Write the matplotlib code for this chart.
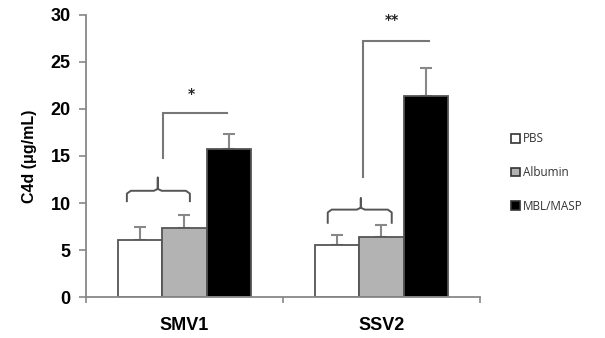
import numpy as np
import matplotlib
matplotlib.use('Agg')
import matplotlib.pyplot as plt
from matplotlib.patches import Patch

groups = ["SMV1", "SSV2"]
series = ["PBS", "Albumin", "MBL/MASP"]
means = {
    "PBS": [6.05, 5.55],
    "Albumin": [7.3, 6.4],
    "MBL/MASP": [15.7, 21.4],
}
errs = {
    "PBS": [1.4, 1.05],
    "Albumin": [1.4, 1.25],
    "MBL/MASP": [1.6, 3.0],
}
colors = {"PBS": "white", "Albumin": "#b3b3b3", "MBL/MASP": "black"}
stars = ["*", "**"]

edge = "#555555"
axcol = "#888888"

fig = plt.figure(figsize=(6.05, 3.38), dpi=100)
ax = fig.add_axes([0.142, 0.121, 0.651, 0.835])

x = np.arange(len(groups))
w = 0.226
for i, s in enumerate(series):
    ax.bar(x + (i - 1) * w, means[s], w, color=colors[s], edgecolor=edge,
           linewidth=1.3, zorder=2)
    ax.errorbar(x + (i - 1) * w, means[s],
                yerr=[np.zeros(len(groups)), errs[s]],
                fmt="none", ecolor=axcol, elinewidth=1.5, capsize=4,
                capthick=1.5, zorder=1)

# significance brackets (x offsets in category units, y in data units)
brk = [(-0.109, 0.216, 19.6, 14.8, 21.6), (-0.094, 0.241, 27.2, 12.8, 29.5)]
for gi, (xl, xr, ytop, ybot, ys) in enumerate(brk):
    ax.plot([gi + xl, gi + xl, gi + xr], [ybot, ytop, ytop], color="#777777",
            lw=1.5, solid_joinstyle="miter")
    ax.text(gi + (xl + xr) / 2 - 0.02, ys, stars[gi], ha="center", va="center",
            fontsize=10, fontweight="bold", color="#222222")

# curly braces over PBS + Albumin
braces = [(-0.292, 0.028, -0.135, 11.3, 12.7, 10.2),
          (-0.272, 0.053, -0.104, 9.3, 10.5, 7.9)]
for gi, (bl, br, bc, yb, ytip, yend) in enumerate(braces):
    r = 0.02
    xs = [gi + bl, gi + bl, gi + bl + r, gi + bc - r, gi + bc, gi + bc,
          gi + bc, gi + bc + r, gi + br - r, gi + br, gi + br]
    ys = [yend, yb - 0.3, yb, yb, yb + 0.2, ytip, yb + 0.2, yb, yb, yb - 0.3, yend]
    ax.plot(xs, ys, color="#555555", lw=1.4)

ax.set_xlim(-0.5, 1.5)
ax.set_ylim(0, 30)
ax.set_yticks(np.arange(0, 31, 5))
ax.set_xticks([-0.5, 0.5, 1.5])
ax.set_xticklabels([])
ax.set_xticks(x, minor=True)
ax.set_xticklabels(groups, minor=True)
ax.tick_params(axis="x", which="minor", length=0, pad=14)
ax.tick_params(axis="x", which="major", length=4, color=axcol, width=1.2)
ax.tick_params(axis="y", length=5, color=axcol, width=1.2, pad=6)
for lab in ax.get_xticklabels(minor=True) + ax.get_yticklabels():
    lab.set_fontsize(13)
    lab.set_fontweight("bold")
    lab.set_family("Liberation Sans")

for sp in ["top", "right"]:
    ax.spines[sp].set_visible(False)
for sp in ["left", "bottom"]:
    ax.spines[sp].set_color(axcol)
    ax.spines[sp].set_linewidth(1.3)

ax.set_ylabel("C4d (μg/mL)", fontsize=11.5, fontweight="bold",
              family="Liberation Sans", labelpad=10)

handles = [Patch(facecolor=colors[s], edgecolor="#333333", linewidth=1.2)
           for s in series]
leg = fig.legend(handles, series, loc="upper left",
                 bbox_to_anchor=(0.827, 0.64), frameon=False,
                 prop={"family": "Open Sans", "size": 8.5},
                 handlelength=0.75, handleheight=0.75, handletextpad=0.3,
                 labelspacing=1.75)
for t in leg.get_texts():
    t.set_color("#333333")

fig.savefig("out.png", dpi=100)
